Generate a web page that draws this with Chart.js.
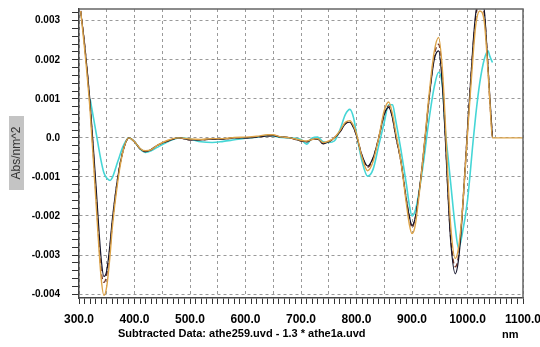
<!DOCTYPE html>
<html>
<head>
<meta charset="utf-8">
<script src="https://cdn.jsdelivr.net/npm/chart.js@4"></script>
<style>
  html, body { margin: 0; padding: 0; background: #fff; }
  #wrap { position: relative; width: 540px; height: 347px; }
</style>
</head>
<body>
<div id="wrap"><canvas id="chart" width="540" height="347"></canvas></div>
<script>
// wavelength (nm)
const wavelengths = [303, 310, 320, 330, 340, 345, 350, 356, 360, 370, 380, 390, 400, 410, 420, 430, 440, 460, 480, 500,
  520, 540, 560, 580, 600, 620, 640, 650, 660, 680, 700, 710, 720, 730, 740, 750, 760, 770, 780, 788,
  795, 800, 810, 820, 830, 840, 850, 858, 865, 870, 880, 890, 895, 900, 905, 910, 920, 930, 940, 948,
  955, 960, 965, 970, 978, 984, 990, 1000, 1010, 1015, 1022, 1030, 1037, 1040, 1045, 1050, 1100];

const seriesBlack = [0.00325, 0.0024, 0.0009, -0.0011, -0.0031, -0.00355, -0.0034, -0.0027, -0.0021, -0.001, -0.0003, 0.0, -0.0001, -0.00028, -0.00035, -0.0003, -0.0002, -0.00008, 0.0, -0.00005,
  -0.00005, -0.00003, -0.00003, 0.0, 0.0, 0.00002, 0.00005, 0.00006, 0.00003, 0.0, -0.00008, -0.0001, -0.00004, -0.00003, -0.00015, -0.0001, 0.0, 0.00015, 0.00036, 0.0004,
  0.00025, 0.00005, -0.00045, -0.00072, -0.0005, 0.0, 0.0006, 0.00078, 0.0005, 0.0001, -0.0006, -0.0016, -0.002, -0.00224, -0.0021, -0.0017, -0.0005, 0.0009, 0.002, 0.00223,
  0.0013, 0.0, -0.0015, -0.0027, -0.00348, -0.0031, -0.0021, 0.0002, 0.0024, 0.0032, 0.0036, 0.0033, 0.0018, 0.0011, 0.0, null, null];

const seriesBrown = [0.00325, 0.0024, 0.0008, -0.0013, -0.0034, -0.0037, -0.0035, -0.0028, -0.0022, -0.001, -0.0003, 0.0, -0.0001, -0.00028, -0.00035, -0.0003, -0.0002, -0.00008, 0.0, -0.00005,
  -0.00005, -0.00003, -0.00003, 0.0, 0.0, 0.00002, 0.00005, 0.00006, 0.00003, 0.0, -0.00008, -0.0001, -0.00004, -0.00003, -0.00015, -0.0001, 0.0, 0.00015, 0.00037, 0.00041,
  0.00026, 0.00006, -0.00046, -0.00075, -0.00052, 0.0, 0.0006, 0.00082, 0.00052, 0.0001, -0.0006, -0.0016, -0.002, -0.0023, -0.0021, -0.0017, -0.0005, 0.0009, 0.0021, 0.0024,
  0.0015, 0.0001, -0.0014, -0.0026, -0.0033, -0.003, -0.002, 0.0002, 0.0023, 0.0031, 0.0035, 0.0032, 0.0018, 0.001, 0.0, null, null];

const seriesOrange = [0.00325, 0.0023, 0.0007, -0.0015, -0.0036, -0.00403, -0.0038, -0.003, -0.0023, -0.0011, -0.0003, 0.0, -0.0001, -0.00027, -0.00033, -0.0003, -0.0002, -0.00006, 0.0, -0.00003,
  -0.00004, -0.00002, -0.00002, 0.00001, 0.00002, 0.00004, 0.00008, 0.00008, 0.00004, 0.0, -0.00006, -0.00008, -0.00004, -0.00002, -0.00012, -0.00008, 0.0, 0.00018, 0.0004, 0.00044,
  0.0003, 0.0001, -0.0005, -0.00084, -0.0006, 0.0, 0.0007, 0.00092, 0.0006, 0.0002, -0.0006, -0.0017, -0.0022, -0.00245, -0.0023, -0.0018, -0.0005, 0.001, 0.0022, 0.00257,
  0.0017, 0.0004, -0.0011, -0.0023, -0.00309, -0.0028, -0.002, 0.0001, 0.0021, 0.0029, 0.00325, 0.003, 0.0017, 0.001, 0.0, 0.0, 0.0];

const seriesCyan = [null, null, 0.001, 0.0002, -0.0006, -0.0009, -0.00103, -0.00109, -0.00102, -0.0006, -0.0002, 0.0, -0.0001, -0.00028, -0.00037, -0.00033, -0.00025, -0.0001, 0.0, -0.00003,
  -0.0001, -0.00012, -0.00009, -0.00005, -0.00001, 0.00002, 0.00006, 0.00005, 0.00002, 0.0, -0.00004, -0.00016, 0.0, 0.00002, -0.0001, -0.00012, -0.00008, 0.0002, 0.0006, 0.00073,
  0.0005, 0.0001, -0.0006, -0.00098, -0.0008, -0.0002, 0.0004, 0.00085, 0.00085, 0.0005, -0.0003, -0.0012, -0.0017, -0.002, -0.0019, -0.0016, -0.0007, 0.0004, 0.0013, 0.00168,
  0.0013, 0.0002, -0.0005, -0.0012, -0.0023, -0.00283, -0.0025, -0.0016, -0.0001, 0.0006, 0.0014, 0.002, 0.00223, 0.0021, 0.00193, null, null];

const xTickLabels = ['300.0', '400.0', '500.0', '600.0', '700.0', '800.0', '900.0', '1000.0', '1100.0'];
const yTickLabels = ['-0.004', '-0.003', '-0.002', '-0.001', '0.0', '0.001', '0.002', '0.003'];

const xMin = 300, xMax = 1100;
const yMin = -0.0041, yMax = 0.0033;

function toPoints(values) {
  return wavelengths.map((w, i) => ({ x: w, y: values[i] }));
}

function isMultiple(v, step) {
  const r = v / step;
  return Math.abs(r - Math.round(r)) < 1e-6;
}

// keep the plot box where the reference has it
function noEdgePadding(scale) {
  scale.paddingLeft = 0;
  scale.paddingRight = 0;
  scale.paddingTop = 0;
  scale.paddingBottom = 0;
}

const frame = {
  id: 'frame',
  afterDatasetsDraw(chart) {
    const { ctx, chartArea: a } = chart;
    ctx.save();
    ctx.strokeStyle = '#666';
    ctx.lineWidth = 1.5;
    ctx.beginPath();
    ctx.moveTo(a.left, a.top);
    ctx.lineTo(a.right, a.top);
    ctx.lineTo(a.right, a.bottom);
    ctx.stroke();
    ctx.restore();
  }
};

const titles = {
  id: 'titles',
  afterDraw(chart) {
    const ctx = chart.ctx;
    ctx.save();
    // y title with its grey box
    ctx.fillStyle = '#c4c4c4';
    ctx.fillRect(9, 116, 15, 74);
    ctx.translate(17, 153);
    ctx.rotate(-Math.PI / 2);
    ctx.fillStyle = '#333';
    ctx.font = '12px "Liberation Sans", Arial, sans-serif';
    ctx.textAlign = 'center';
    ctx.textBaseline = 'middle';
    ctx.fillText('Abs/nm^2', 0, 0);
    ctx.restore();

    ctx.save();
    ctx.fillStyle = '#000';
    ctx.font = 'bold 11px "Liberation Sans", Arial, sans-serif';
    ctx.textBaseline = 'alphabetic';
    ctx.fillText('Subtracted Data: athe259.uvd - 1.3 * athe1a.uvd', 118, 337);
    ctx.fillText('nm', 502, 338);
    ctx.restore();
  }
};

new Chart(document.getElementById('chart'), {
  type: 'line',
  data: {
    datasets: [
      { data: toPoints(seriesOrange), borderColor: '#dca348', borderWidth: 1.4 },
      { data: toPoints(seriesBlack), borderColor: '#12122a', borderWidth: 1.2 },
      { data: toPoints(seriesBrown), borderColor: '#7a3a2c', borderWidth: 1.4, borderDash: [5, 3] },
      { data: toPoints(seriesCyan), borderColor: '#45d6d6', borderWidth: 1.6 }
    ]
  },
  options: {
    responsive: false,
    devicePixelRatio: 1,
    animation: false,
    layout: { padding: { left: 0, top: 9, right: 17, bottom: 0 } },
    elements: {
      point: { radius: 0 },
      line: { cubicInterpolationMode: 'monotone', fill: false }
    },
    plugins: {
      legend: { display: false },
      tooltip: { enabled: false }
    },
    scales: {
      x: {
        type: 'linear',
        min: xMin,
        max: xMax,
        afterBuildTicks: scale => {
          const ticks = [];
          for (let v = xMin; v <= xMax; v += 10) ticks.push({ value: v });
          scale.ticks = ticks;
        },
        afterFit: scale => { scale.height = 49; noEdgePadding(scale); },
        grid: {
          color: c => (c.tick && c.tick.value % 50 === 0) ? '#9a9a9a' : 'transparent',
          lineWidth: 1,
          tickColor: '#333',
          tickLength: 6,
          drawTicks: true
        },
        border: { color: '#444', width: 1.5, dash: [3, 3] },
        ticks: {
          autoSkip: false,
          maxRotation: 0,
          padding: 8,
          color: '#000',
          font: { family: '"Liberation Sans", Arial, sans-serif', size: 12, weight: 'bold' },
          callback: v => v % 100 === 0 ? xTickLabels[(v - xMin) / 100] : ''
        }
      },
      y: {
        type: 'linear',
        min: yMin,
        max: yMax,
        afterBuildTicks: scale => {
          const ticks = [];
          for (let k = -20; k <= 16; k++) ticks.push({ value: k * 0.0002 });
          scale.ticks = ticks;
        },
        afterFit: scale => { scale.width = 79; noEdgePadding(scale); },
        grid: {
          color: c => (c.tick && isMultiple(c.tick.value, 0.001)) ? '#9a9a9a' : 'transparent',
          lineWidth: 1,
          tickColor: '#333',
          tickLength: 7,
          drawTicks: true
        },
        border: { color: '#444', width: 1.5, dash: [3, 3] },
        ticks: {
          autoSkip: false,
          padding: 12,
          color: '#000',
          font: { family: '"Liberation Sans", Arial, sans-serif', size: 10, weight: 'bold' },
          callback: v => isMultiple(v, 0.001) ? yTickLabels[Math.round(v * 1000) + 4] : ''
        }
      }
    }
  },
  plugins: [frame, titles]
});
</script>
</body>
</html>
